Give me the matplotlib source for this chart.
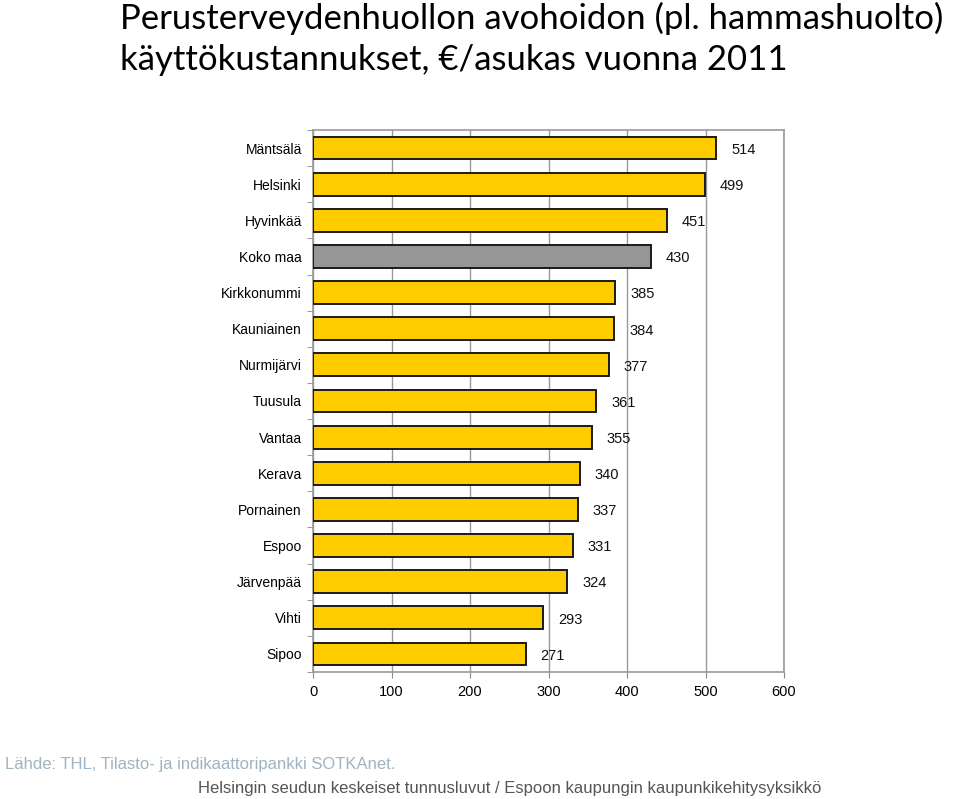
import matplotlib.pyplot as plt

kunnat = ["Mäntsälä", "Helsinki", "Hyvinkää", "Koko maa", "Kirkkonummi", "Kauniainen",
          "Nurmijärvi", "Tuusula", "Vantaa", "Kerava", "Pornainen", "Espoo",
          "Järvenpää", "Vihti", "Sipoo"]
kustannus = [514, 499, 451, 430, 385, 384, 377, 361, 355, 340, 337, 331, 324, 293, 271]
x_ticks = [0, 100, 200, 300, 400, 500, 600]

plt.rcParams['font.family'] = ['Liberation Sans', 'DejaVu Sans']

fig = plt.figure(figsize=(9.6, 7.99), dpi=100)
ax = fig.add_axes([313 / 960, 1 - 672 / 799, (784 - 313) / 960, (672 - 130) / 799])

pos = list(range(len(kunnat)))
colors = ["#969696" if k == "Koko maa" else "#FFCC00" for k in kunnat]
ax.barh(pos, kustannus, height=0.63, color=colors, edgecolor="#1a1a1a", linewidth=1.4, zorder=3)
for p, v in zip(pos, kustannus):
    ax.text(v + 19, p + 0.05, str(v), va="center", ha="left", fontsize=10.5, color="#111111")

ax.set_ylim(len(kunnat) - 0.5, -0.5)
ax.set_xlim(0, 600)
ax.set_xticks(x_ticks)
ax.set_xticklabels([str(t) for t in x_ticks], fontsize=10.5)
ax.set_yticks(pos)
ax.set_yticklabels(kunnat, fontsize=10)
ax.tick_params(axis="y", length=0, pad=8)
ax.tick_params(axis="x", length=4, color="#888888", pad=5, direction="out")
ax.set_yticks([p + 0.5 for p in range(-1, len(kunnat))], minor=True)
ax.tick_params(axis="y", which="minor", length=4, color="#888888")
ax.grid(axis="x", color="#999999", linewidth=1, zorder=0)
for s in ax.spines.values():
    s.set_color("#999999")
    s.set_linewidth(1.2)

fig.text(120 / 960, 1 - 18 / 799, "Perusterveydenhuollon avohoidon (pl. hammashuolto)",
         fontsize=25, va="center", ha="left", family=["Lato", "DejaVu Sans"])
fig.text(120 / 960, 1 - 60 / 799, "käyttökustannukset, €/asukas vuonna 2011",
         fontsize=25, va="center", ha="left", family=["Lato", "DejaVu Sans"])

fig.text(5 / 960, 1 - 765 / 799, "Lähde: THL, Tilasto- ja indikaattoripankki SOTKAnet.",
         fontsize=12, color="#9fb4c2", va="center", ha="left")
fig.text(510 / 960, 1 - 788 / 799,
         "Helsingin seudun keskeiset tunnusluvut / Espoon kaupungin kaupunkikehitysyksikkö",
         fontsize=12, color="#555555", va="center", ha="center")

fig.savefig("out.png", dpi=100)
